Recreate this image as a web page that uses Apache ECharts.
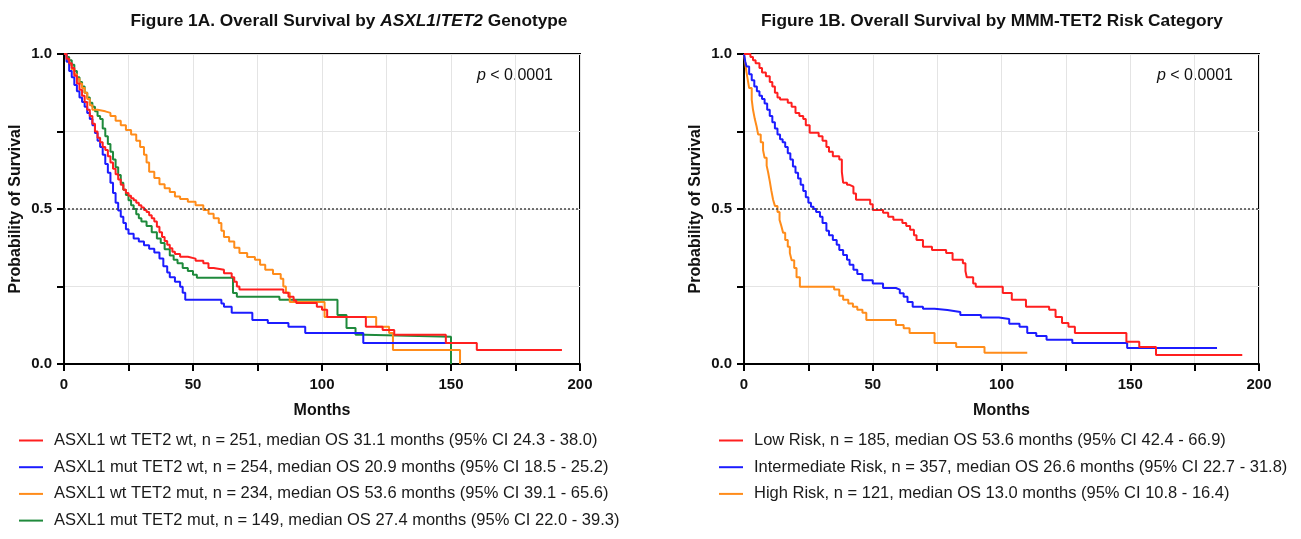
<!DOCTYPE html>
<html>
<head>
<meta charset="utf-8">
<script src="https://cdn.jsdelivr.net/npm/echarts@6/dist/echarts.min.js"></script>
<style>
html,body{margin:0;padding:0;background:#fff;}
#c{width:1301px;height:539px;}
</style>
</head>
<body>
<div id="c"></div>
<script>
// ---------- DATA (months, survival probability) ----------
const namesA = [
  'ASXL1 wt TET2 wt, n = 251, median OS 31.1 months (95% CI 24.3 - 38.0)',
  'ASXL1 mut TET2 wt, n = 254, median OS 20.9 months (95% CI 18.5 - 25.2)',
  'ASXL1 wt TET2 mut, n = 234, median OS 53.6 months (95% CI 39.1 - 65.6)',
  'ASXL1 mut TET2 mut, n = 149, median OS 27.4 months (95% CI 22.0 - 39.3)'
];
const namesB = [
  'Low Risk, n = 185, median OS 53.6 months (95% CI 42.4 - 66.9)',
  'Intermediate Risk, n = 357, median OS 26.6 months (95% CI 22.7 - 31.8)',
  'High Risk, n = 121, median OS 13.0 months (95% CI 10.8 - 16.4)'
];
const xTicks = [0, 50, 100, 150, 200];
const yTicks = [0, 0.5, 1];

const aWtWt = [[0,1],[1,0.985],[2,0.97],[3,0.955],[4,0.93],[5,0.905],[6,0.885],[7,0.865],[8,0.845],[9,0.82],[10,0.80],[11,0.775],[12,0.75],[13,0.73],[14,0.715],[15,0.70],[16,0.69],[17,0.67],[18,0.65],[19,0.63],[20,0.612],[21,0.595],[22,0.578],[23,0.562],[24,0.552],[25,0.543],[26,0.535],[27,0.528],[28,0.52],[29,0.512],[30,0.505],[31,0.497],[32,0.49],[33,0.48],[34,0.47],[35,0.46],[36,0.443],[37,0.425],[38,0.41],[39,0.397],[40,0.385],[41,0.373],[42,0.362],[43,0.355],[45,0.346],[48,0.34],[51,0.333],[54,0.325],[56,0.31],[58,0.304],[62,0.293],[65,0.28],[66,0.265],[67,0.25],[68,0.24],[85,0.23],[87,0.217],[89,0.205],[90,0.197],[98,0.185],[100,0.175],[102,0.152],[117,0.12],[123.5,0.11],[128,0.094],[148,0.068],[160,0.045],[193,0.045]];
const aMutWt = [[0,1],[1,0.975],[2,0.945],[3,0.925],[4,0.9],[5,0.88],[6,0.86],[7,0.845],[8,0.83],[9,0.81],[10,0.79],[11,0.77],[12,0.745],[13,0.72],[14,0.70],[15,0.675],[16,0.645],[17,0.617],[18,0.585],[19,0.552],[20,0.52],[21,0.495],[22,0.475],[23,0.455],[24,0.435],[25,0.42],[27,0.405],[29,0.395],[31,0.383],[33,0.372],[35,0.36],[37,0.34],[38.5,0.315],[40,0.295],[41,0.28],[43,0.265],[45,0.249],[46,0.23],[47,0.207],[61,0.195],[62,0.185],[65,0.165],[73,0.142],[79,0.132],[87,0.12],[93.5,0.10],[116,0.068],[160,0.068]];
const aWtMut = [[0,1],[1,0.98],[2,0.965],[3,0.95],[4,0.935],[5,0.92],[6,0.905],[7,0.89],[8,0.875],[9,0.855],[10,0.835],[11,0.82],[13,0.815],[16,0.81],[18,0.80],[20,0.785],[22,0.77],[24,0.755],[26,0.74],[28,0.72],[29.5,0.70],[31,0.675],[32,0.65],[33,0.62],[35,0.60],[37,0.58],[39,0.567],[41,0.555],[43,0.54],[45,0.532],[48,0.523],[51,0.512],[54,0.497],[56,0.485],[58,0.47],[60,0.455],[61,0.43],[62,0.41],[64,0.395],[66,0.375],[68,0.358],[71,0.345],[74,0.336],[76,0.32],[78,0.304],[81,0.29],[84,0.275],[85,0.25],[86,0.23],[87.5,0.20],[101,0.152],[121,0.12],[126,0.10],[127.5,0.045],[153.5,0]];
const aMutMut = [[0,1],[1,0.99],[2,0.98],[3,0.965],[4,0.945],[5,0.925],[6,0.91],[7,0.895],[8,0.875],[9,0.86],[10,0.843],[11,0.83],[12,0.815],[13,0.80],[14,0.79],[15,0.76],[16,0.735],[17,0.71],[18,0.685],[19,0.66],[20,0.635],[21,0.61],[22,0.585],[23,0.562],[24,0.545],[25,0.528],[26,0.512],[27,0.50],[28,0.483],[29,0.47],[30,0.46],[32,0.445],[34,0.425],[36,0.405],[37.5,0.39],[39,0.37],[41,0.35],[42.5,0.336],[44,0.325],[46,0.31],[48,0.30],[50,0.288],[51.5,0.278],[65.5,0.229],[67,0.217],[83.5,0.207],[106,0.158],[109.5,0.116],[113,0.094],[116.5,0.088],[150,0]];

const bLow = [[0,1],[2.5,0.99],[3.5,0.98],[4.5,0.97],[6,0.955],[7,0.94],[8.5,0.928],[10,0.91],[11,0.895],[12,0.875],[13,0.86],[14,0.853],[17,0.843],[18.5,0.83],[20,0.81],[21.5,0.80],[23,0.79],[24,0.77],[25.5,0.746],[29,0.735],[30.5,0.72],[32,0.70],[33,0.685],[34.5,0.67],[37,0.66],[38,0.62],[38.5,0.585],[40,0.578],[41,0.572],[42.5,0.55],[43.5,0.53],[49,0.515],[50,0.497],[54,0.488],[56,0.475],[58,0.465],[61.5,0.455],[63,0.445],[64.5,0.433],[66,0.415],[67,0.40],[69.5,0.378],[73,0.368],[78.5,0.358],[81,0.336],[85,0.325],[86,0.30],[86.5,0.28],[89,0.26],[90,0.249],[100.5,0.229],[104,0.207],[109.5,0.185],[118.5,0.175],[121,0.152],[123.5,0.132],[126,0.12],[128.5,0.10],[148.5,0.072],[153.5,0.055],[160,0.029],[193.5,0.029]];
const bInt = [[0,1],[0.5,0.975],[1,0.96],[2,0.935],[3,0.915],[4,0.895],[5,0.88],[6,0.865],[7,0.855],[8,0.84],[9,0.82],[10,0.80],[11,0.78],[12,0.76],[13,0.74],[14,0.725],[15,0.715],[16,0.70],[17,0.68],[18,0.66],[19,0.637],[20,0.617],[21,0.598],[22,0.578],[23,0.558],[24,0.538],[25,0.52],[26,0.507],[27,0.5],[28,0.49],[29.5,0.475],[30.5,0.455],[32,0.43],[33,0.415],[34.5,0.40],[36,0.385],[37,0.368],[38.5,0.352],[40,0.336],[41,0.32],[42.5,0.304],[44,0.29],[46,0.27],[50,0.26],[54,0.245],[59,0.24],[60.5,0.228],[62,0.217],[63.5,0.2],[65.5,0.185],[69.5,0.178],[74,0.174],[79,0.168],[84,0.158],[92,0.15],[99,0.145],[103,0.13],[107,0.12],[110,0.10],[113.5,0.09],[117.5,0.078],[127.5,0.068],[148.8,0.052],[183.7,0.052]];
const bHigh = [[0,1],[0.5,0.97],[1,0.94],[1.5,0.915],[2,0.89],[3,0.853],[3.5,0.82],[4.2,0.79],[4.9,0.766],[5.5,0.74],[6.5,0.715],[7.4,0.69],[8,0.665],[8.8,0.64],[9.4,0.617],[10,0.59],[10.6,0.56],[11.3,0.53],[12,0.51],[13,0.49],[13.8,0.465],[14.5,0.445],[15.2,0.423],[16,0.40],[17,0.378],[17.8,0.358],[18.5,0.335],[19.5,0.31],[20.4,0.28],[21.7,0.249],[35,0.24],[37,0.22],[38.5,0.207],[40.5,0.195],[42.3,0.185],[44,0.175],[46,0.165],[47.5,0.142],[59,0.126],[62,0.115],[64.3,0.10],[74,0.068],[82.4,0.055],[93.4,0.036],[110,0.036]];

// ---------- STYLE ----------
const FONT = '"Liberation Sans", Arial, Helvetica, sans-serif';
const RED = '#ff1f1f', BLUE = '#1c1cff', ORANGE = '#ff8c1a', GREEN = '#1f8a3c';

function xAx(gi) {
  return {
    gridIndex: gi, type: 'value', min: 0, max: 200, interval: 25,
    name: 'Months', nameLocation: 'middle', nameGap: 39,
    nameTextStyle: {fontFamily: FONT, fontWeight: 'bold', fontSize: 16, color: '#111'},
    axisLine: {show: true, onZero: false, lineStyle: {color: '#000', width: 2}},
    axisTick: {show: true, length: 7, lineStyle: {color: '#000', width: 2}},
    axisLabel: {fontFamily: FONT, fontWeight: 'bold', fontSize: 15, color: '#111', margin: 13,
      formatter: v => xTicks.indexOf(v) >= 0 ? String(v) : ''},
    splitLine: {show: true, lineStyle: {color: '#e4e4e4', width: 1}}
  };
}
function yAx(gi) {
  return {
    gridIndex: gi, type: 'value', min: 0, max: 1, interval: 0.25,
    name: 'Probability of Survival', nameLocation: 'middle', nameGap: 40,
    nameTextStyle: {fontFamily: FONT, fontWeight: 'bold', fontSize: 16, color: '#111'},
    axisLine: {show: true, lineStyle: {color: '#000', width: 2}},
    axisTick: {show: true, length: 7, lineStyle: {color: '#000', width: 2}},
    axisLabel: {fontFamily: FONT, fontWeight: 'bold', fontSize: 15, color: '#111', margin: 12,
      formatter: v => yTicks.indexOf(v) >= 0 ? v.toFixed(1) : ''},
    splitLine: {show: true, lineStyle: {color: '#e4e4e4', width: 1}}
  };
}
function km(name, data, color, gi, mark) {
  const s = {
    name: name, type: 'line', step: 'end', data: data,
    xAxisIndex: gi, yAxisIndex: gi, symbol: 'none', showSymbol: false,
    lineStyle: {color: color, width: 2}, itemStyle: {color: color},
    animation: false, z: 3
  };
  if (mark) {
    s.markLine = {silent: true, symbol: ['none', 'none'], label: {show: false},
      lineStyle: {type: [2, 2], color: '#444', width: 1.5}, data: [{yAxis: 0.5}], animation: false};
  }
  return s;
}
function legendBox(names, left) {
  return {
    data: names, left: left, top: 431, orient: 'vertical', icon: 'rect',
    itemWidth: 24, itemHeight: 2, itemGap: 7.7, selectedMode: false, padding: 0,
    textStyle: {fontFamily: FONT, fontSize: 16.5, color: '#1a1a1a', lineHeight: 19, padding: [0, 0, 0, 6]}
  };
}
function txt(x, y, text, rich, align) {
  return {type: 'text', x: 0, y: 0, silent: true,
    style: {text: text, x: x, y: y, align: align, textAlign: align, verticalAlign: 'middle', textVerticalAlign: 'middle', rich: rich}};
}
const titleRich = {
  b: {fontFamily: FONT, fontWeight: 'bold', fontSize: 17.3, fill: '#111', color: '#111'},
  i: {fontFamily: FONT, fontWeight: 'bold', fontStyle: 'italic', fontSize: 17.3, fill: '#111', color: '#111'}
};
const pRich = {
  i: {fontFamily: FONT, fontStyle: 'italic', fontSize: 16, fill: '#111', color: '#111'},
  r: {fontFamily: FONT, fontSize: 16, fill: '#111', color: '#111'}
};

const option = {
  backgroundColor: '#fff',
  animation: false,
  grid: [
    {left: 64, top: 54, width: 516, height: 310, show: true, borderColor: '#000', borderWidth: 2, backgroundColor: 'transparent'},
    {left: 744, top: 54, width: 515, height: 310, show: true, borderColor: '#000', borderWidth: 2, backgroundColor: 'transparent'}
  ],
  xAxis: [xAx(0), xAx(1)],
  yAxis: [yAx(0), yAx(1)],
  legend: [legendBox(namesA, 19), legendBox(namesB, 719)],
  series: [
    km(namesA[3], aMutMut, GREEN, 0, true),
    km(namesA[2], aWtMut, ORANGE, 0, false),
    km(namesA[1], aMutWt, BLUE, 0, false),
    km(namesA[0], aWtWt, RED, 0, false),
    km(namesB[2], bHigh, ORANGE, 1, true),
    km(namesB[1], bInt, BLUE, 1, false),
    km(namesB[0], bLow, RED, 1, false)
  ],
  graphic: [
    txt(349, 21, '{b|Figure 1A. Overall Survival by }{i|ASXL1}{b|/}{i|TET2}{b| Genotype}', titleRich, 'center'),
    txt(992, 21, '{b|Figure 1B. Overall Survival by MMM-TET2 Risk Category}', titleRich, 'center'),
    txt(553, 76, '{i|p}{r| < 0.0001}', pRich, 'right'),
    txt(1233, 76, '{i|p}{r| < 0.0001}', pRich, 'right')
  ]
};
const chart = echarts.init(document.getElementById('c'), null, {renderer: 'canvas'});
chart.setOption(option);
</script>
</body>
</html>
